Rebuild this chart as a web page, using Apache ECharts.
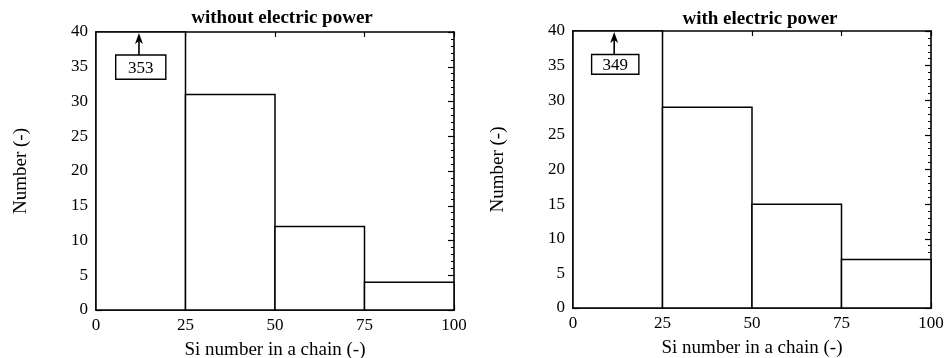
<!DOCTYPE html>
<html>
<head>
<meta charset="utf-8">
<script src="https://cdn.jsdelivr.net/npm/echarts@6/dist/echarts.min.js"></script>
<style>
html,body{margin:0;padding:0;background:#fff;}
#c{width:946px;height:358px;}
</style>
</head>
<body>
<div id="c"></div>
<script>
// ---- data ----
const binStarts = [0, 25, 50, 75];
const binWidth = 25;
const countsWithout = [353, 31, 12, 4];
const countsWith = [349, 29, 15, 7];
const titles = ['without electric power', 'with electric power'];
const xTicks = [0, 25, 50, 75, 100];
const yTicks = [0, 5, 10, 15, 20, 25, 30, 35, 40];
const xName = 'Si number in a chain (-)';
const yName = 'Number (-)';

const FONT = '"Liberation Serif", "Times New Roman", serif';
const yMax = yTicks[yTicks.length - 1];
const xMax = xTicks[xTicks.length - 1];

function barData(counts) {
  return counts.map((v, i) => [binStarts[i], binStarts[i] + binWidth, v]);
}

function renderBar(params, api) {
  const x0 = api.value(0), x1 = api.value(1), v = api.value(2);
  const p0 = api.coord([x0, 0]);
  const p1 = api.coord([x1, Math.min(v, yMax)]);
  return {
    type: 'rect',
    shape: {x: p0[0], y: p1[1], width: p1[0] - p0[0], height: p0[1] - p1[1]},
    style: {fill: '#fff', stroke: '#000', lineWidth: 1.5}
  };
}

function makeAnnot(boxX0, boxX1, boxY0, boxY1, arrowX) {
  return function (params, api) {
    const v = api.value(0);
    const a = api.coord([boxX0, boxY1]);
    const b = api.coord([boxX1, boxY0]);
    const t = api.coord([arrowX, yMax]);
    const s = api.coord([arrowX, boxY1]);
    return {
      type: 'group',
      children: [
        {type: 'rect', shape: {x: a[0], y: a[1], width: b[0] - a[0], height: b[1] - a[1]},
         style: {fill: '#fff', stroke: '#000', lineWidth: 1.4}},
        {type: 'text', x: (a[0] + b[0]) / 2, y: (a[1] + b[1]) / 2 + 1,
         style: {text: String(v), font: '17px ' + FONT, fill: '#000', align: 'center', verticalAlign: 'middle'}},
        {type: 'line', shape: {x1: s[0], y1: s[1], x2: t[0], y2: t[1] + 6}, style: {stroke: '#000', lineWidth: 1.6}},
        {type: 'polygon', shape: {points: [[t[0], t[1] + 1], [t[0] - 4, t[1] + 12], [t[0], t[1] + 9], [t[0] + 4, t[1] + 12]]},
         style: {fill: '#000'}}
      ]
    };
  };
}

const grids = [
  {left: 96, right: 492, top: 32, bottom: 48, containLabel: false, outerBoundsMode: 'none'},
  {left: 573, right: 15, top: 31, bottom: 50, containLabel: false, outerBoundsMode: 'none'}
];

const axisLineStyle = {color: '#000', width: 1.6};
const labelStyle = {color: '#000', fontFamily: FONT, fontSize: 17};

const xAxes = [], yAxes = [];
grids.forEach((g, i) => {
  xAxes.push({
    gridIndex: i, type: 'value', position: 'bottom', min: 0, max: xMax, interval: 25,
    axisLine: {show: true, onZero: false, lineStyle: axisLineStyle},
    axisTick: {show: true, inside: true, length: 5, lineStyle: {color: '#000', width: 1.2}},
    axisLabel: Object.assign({margin: 7}, labelStyle),
    splitLine: {show: false},
    name: xName, nameLocation: 'middle', nameGap: 31,
    nameTextStyle: {color: '#000', fontFamily: FONT, fontSize: 19}
  });
  xAxes.push({
    gridIndex: i, type: 'value', position: 'top', min: 0, max: xMax, interval: 25,
    axisLine: {show: true, onZero: false, lineStyle: axisLineStyle},
    axisTick: {show: true, inside: true, length: 5, lineStyle: {color: '#000', width: 1.2}},
    axisLabel: {show: false}, splitLine: {show: false}
  });
  yAxes.push({
    gridIndex: i, type: 'value', position: 'left', min: 0, max: yMax, interval: 5,
    axisLine: {show: true, onZero: false, lineStyle: axisLineStyle},
    axisTick: {show: true, inside: true, length: 6, lineStyle: {color: '#000', width: 1.2}},
    minorTick: {show: true, splitNumber: 5, length: 3, lineStyle: {color: '#000', width: 1}},
    axisLabel: Object.assign({margin: 8}, labelStyle),
    splitLine: {show: false},
    name: yName, nameLocation: 'middle', nameGap: 65,
    nameTextStyle: {color: '#000', fontFamily: FONT, fontSize: 19}
  });
  yAxes.push({
    gridIndex: i, type: 'value', position: 'right', min: 0, max: yMax, interval: 5,
    axisLine: {show: true, onZero: false, lineStyle: axisLineStyle},
    axisTick: {show: true, inside: true, length: 6, lineStyle: {color: '#000', width: 1.2}},
    minorTick: {show: true, splitNumber: 5, length: 3, lineStyle: {color: '#000', width: 1}},
    axisLabel: {show: false}, splitLine: {show: false}
  });
});

const chart = echarts.init(document.getElementById('c'), null, {renderer: 'canvas'});
chart.setOption({
  animation: false,
  backgroundColor: '#fff',
  title: [
    {text: titles[0], left: 277, top: 4, textAlign: 'center',
     textStyle: {fontFamily: FONT, fontSize: 19, fontWeight: 'bold', color: '#000'}},
    {text: titles[1], left: 755, top: 5, textAlign: 'center',
     textStyle: {fontFamily: FONT, fontSize: 19, fontWeight: 'bold', color: '#000'}}
  ],
  grid: grids,
  xAxis: xAxes,
  yAxis: yAxes,
  series: [
    {type: 'custom', xAxisIndex: 0, yAxisIndex: 0, data: barData(countsWithout), renderItem: renderBar, encode: {x: [0, 1], y: 2}, z: 1},
    {type: 'custom', xAxisIndex: 2, yAxisIndex: 2, data: barData(countsWith), renderItem: renderBar, encode: {x: [0, 1], y: 2}, z: 1},
    {type: 'custom', xAxisIndex: 0, yAxisIndex: 0, data: [[countsWithout[0]]], renderItem: makeAnnot(5.5, 19.5, 33.2, 36.7, 12), z: 3, clip: false},
    {type: 'custom', xAxisIndex: 2, yAxisIndex: 2, data: [[countsWith[0]]], renderItem: makeAnnot(5.2, 18.4, 33.75, 36.6, 11.5), z: 3, clip: false}
  ]
});
</script>
</body>
</html>
